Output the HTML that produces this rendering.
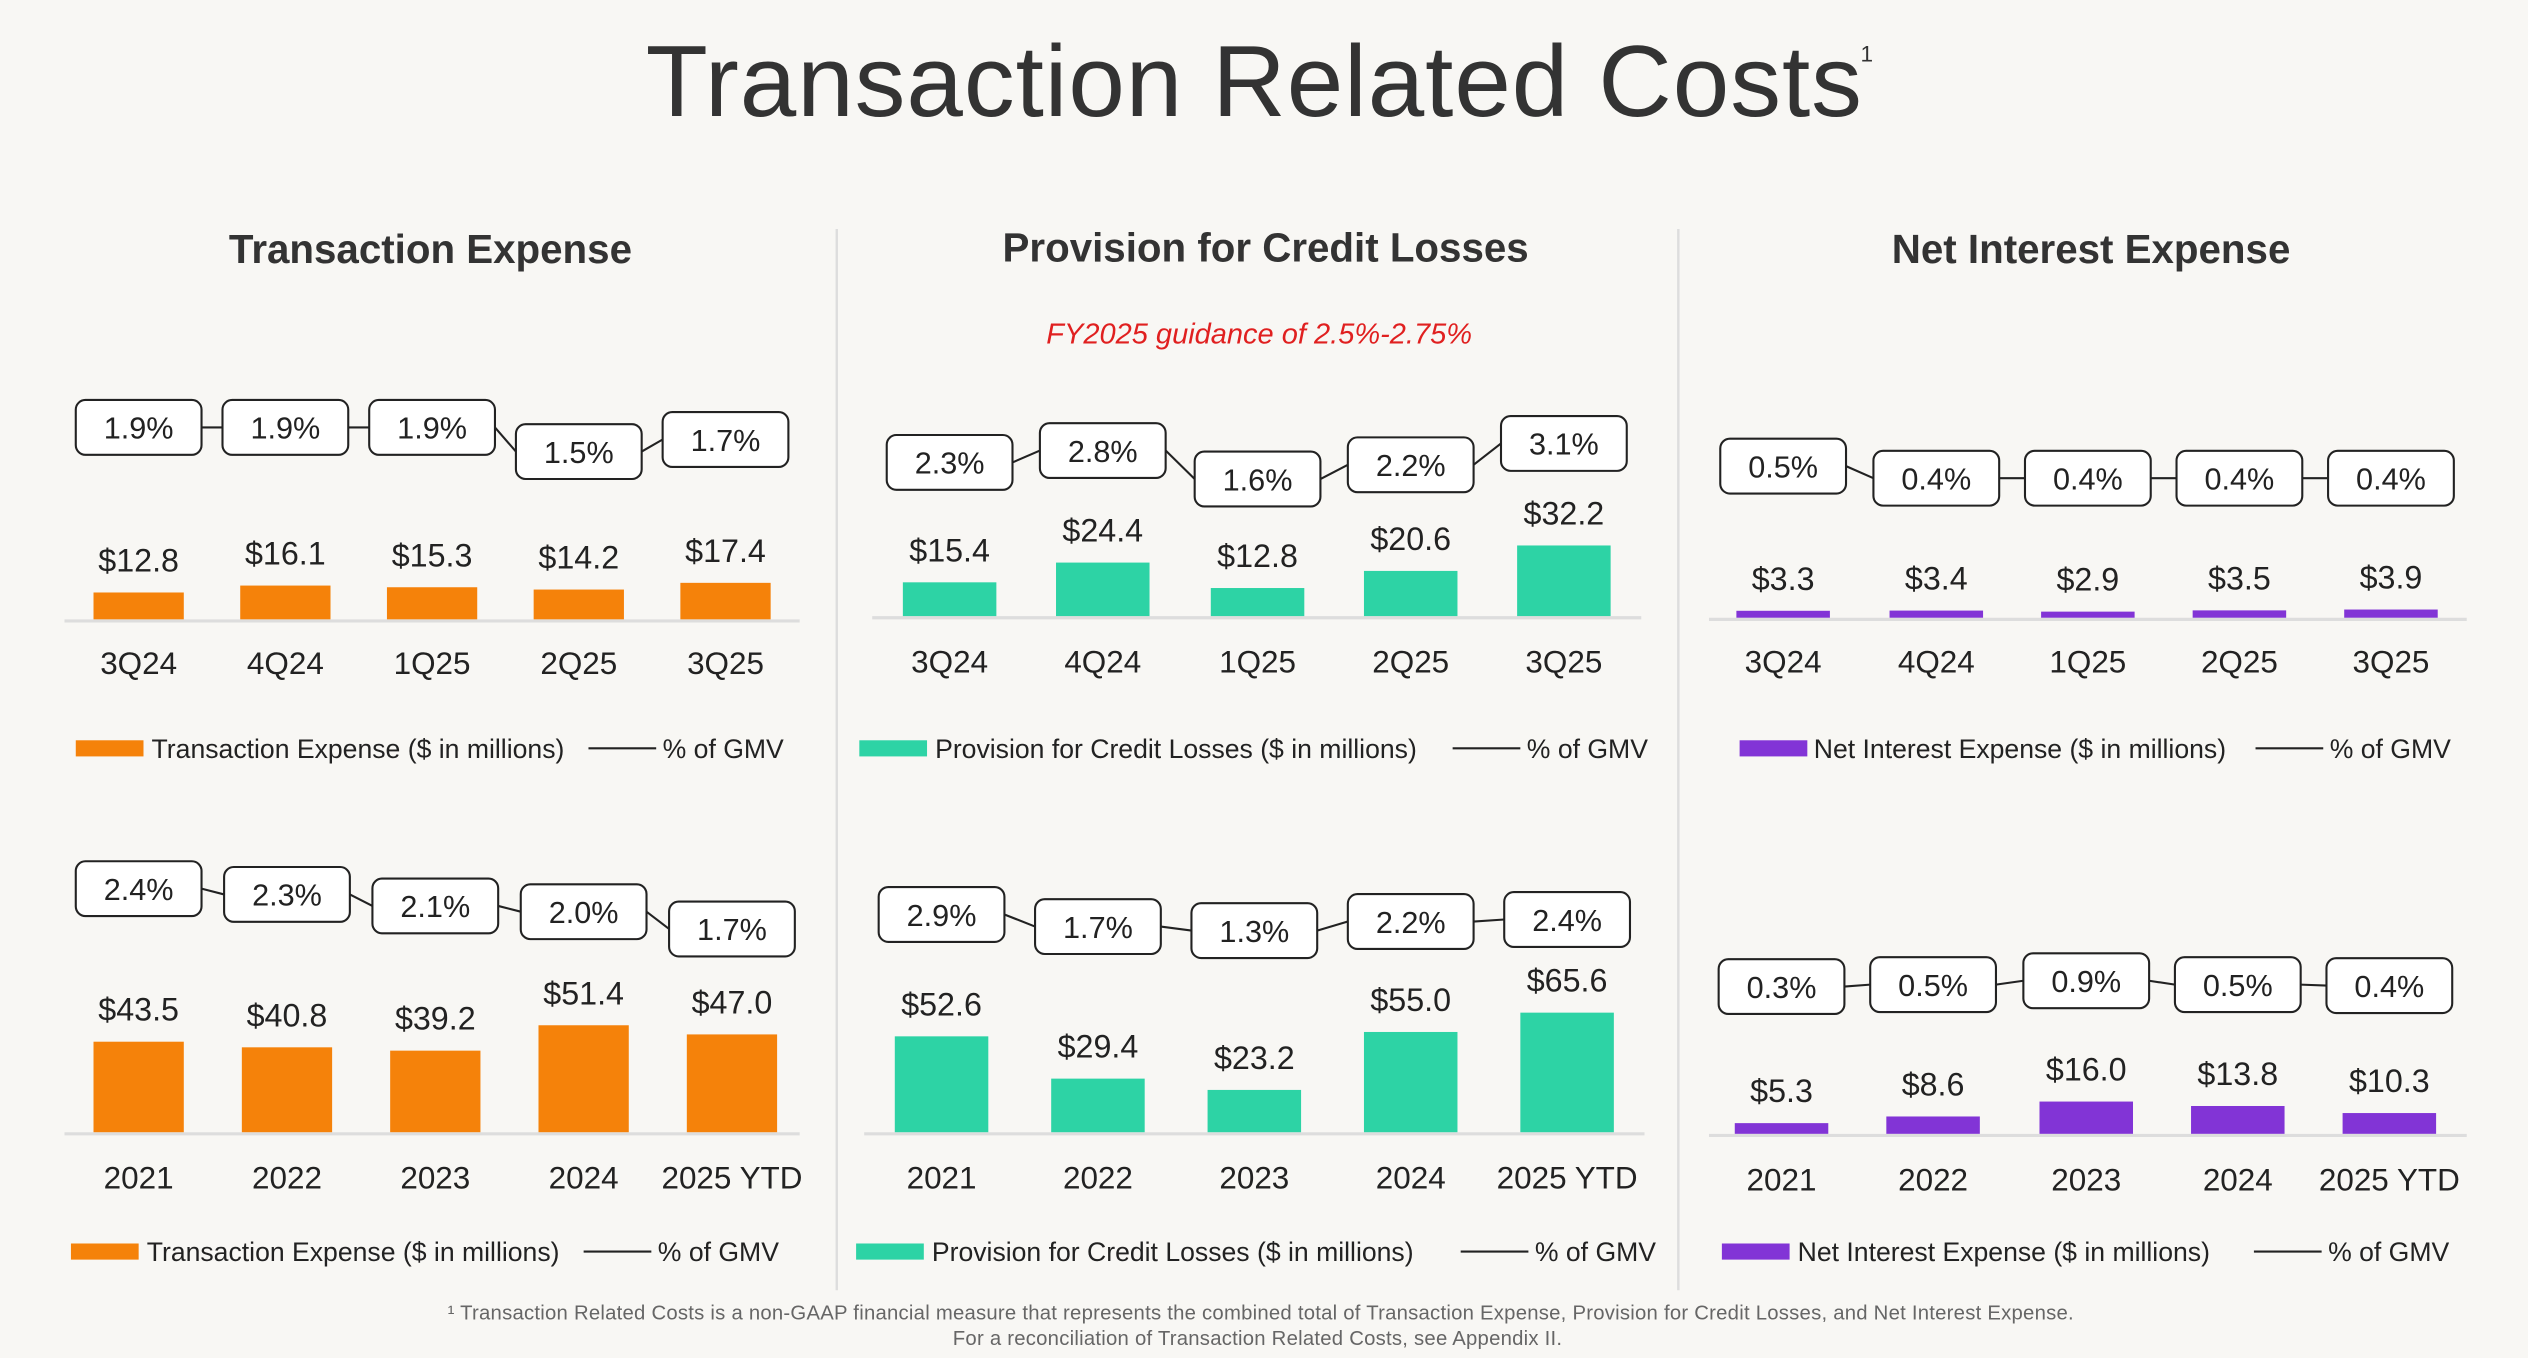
<!DOCTYPE html>
<html><head><meta charset="utf-8"><style>
html,body{margin:0;padding:0;background:#f8f7f4;}
svg{display:block;font-family:"Liberation Sans",sans-serif;}
</style></head><body>
<svg id="s" width="2528" height="1358" viewBox="0 0 1568 842" preserveAspectRatio="none">
<rect x="0" y="0" width="1568" height="842" fill="#f8f7f4"/>
<text x="778" y="72" text-anchor="middle" font-size="63" letter-spacing="0.6" fill="#333">Transaction Related Costs</text>
<text x="1154" y="38" font-size="14" fill="#333">1</text>
<text x="267" y="163" text-anchor="middle" font-size="25" font-weight="bold" fill="#333">Transaction Expense</text>
<text x="785" y="162" text-anchor="middle" font-size="25" font-weight="bold" fill="#333">Provision for Credit Losses</text>
<text x="1297" y="163" text-anchor="middle" font-size="25" font-weight="bold" fill="#333">Net Interest Expense</text>
<text x="781" y="213" text-anchor="middle" font-size="18" font-style="italic" fill="#e02020">FY2025 guidance of 2.5%-2.75%</text>
<line x1="519" y1="142" x2="519" y2="800" stroke="#ddd" stroke-width="1.5"/>
<line x1="1041" y1="142" x2="1041" y2="800" stroke="#ddd" stroke-width="1.5"/>
<text x="782" y="818" text-anchor="middle" font-size="12.6" letter-spacing="0.15" fill="#666">¹ Transaction Related Costs is a non-GAAP financial measure that represents the combined total of Transaction Expense, Provision for Credit Losses, and Net Interest Expense.</text>
<text x="780" y="834" text-anchor="middle" font-size="12.6" letter-spacing="0.15" fill="#666">For a reconciliation of Transaction Related Costs, see Appendix II.</text>
</svg>
<script>
const qCats = ["3Q24","4Q24","1Q25","2Q25","3Q25"];
const yCats = ["2021","2022","2023","2024","2025 YTD"];
const teQVals = [12.8,16.1,15.3,14.2,17.4];
const teQPct = [1.9,1.9,1.9,1.5,1.7];
const teYVals = [43.5,40.8,39.2,51.4,47.0];
const teYPct = [2.4,2.3,2.1,2.0,1.7];
const pcQVals = [15.4,24.4,12.8,20.6,32.2];
const pcQPct = [2.3,2.8,1.6,2.2,3.1];
const pcYVals = [52.6,29.4,23.2,55.0,65.6];
const pcYPct = [2.9,1.7,1.3,2.2,2.4];
const niQVals = [3.3,3.4,2.9,3.5,3.9];
const niQPct = [0.5,0.4,0.4,0.4,0.4];
const niYVals = [5.3,8.6,16.0,13.8,10.3];
const niYPct = [0.3,0.5,0.9,0.5,0.4];

const NS="http://www.w3.org/2000/svg";
const svg=document.getElementById('s');
function mk(tag,attrs,parent){const e=document.createElementNS(NS,tag);for(const k in attrs)e.setAttribute(k,attrs[k]);(parent||svg).appendChild(e);return e;}

function chart(c){
  const g=mk('g',{});
  
  
  const yBar=v=>c.base-v*c.k;
  const yBox=v=>c.pa-c.pb*v;
  const ax=mk('line',{x1:c.ax0,x2:c.ax1,y1:c.base+1,y2:c.base+1,stroke:'#ddd','stroke-width':2},g);
  
  
  for(let i=0;i<c.cats.length-1;i++){
    const l=mk('line',{x1:c.xs[i]+39,y1:yBox(c.pct[i]),x2:c.xs[i+1]-39,y2:yBox(c.pct[i+1]),stroke:'#222','stroke-width':1.3},g);
    
    
  }
  c.cats.forEach((cat,i)=>{
    const x=c.xs[i],v=c.vals[i],t=yBar(v);
    const b=mk('rect',{x:x-c.bw/2,y:t,width:c.bw,height:c.base-t,fill:c.color},g);
    
    
    const vl=mk('text',{x:x,y:t-13,'text-anchor':'middle','font-size':20,fill:'#222'},g);
    vl.textContent='$'+v.toFixed(1);
    
    
    const cl=mk('text',{x:x,y:c.catY,'text-anchor':'middle','font-size':19.5,fill:'#222'},g);
    cl.textContent=cat;
    
    
    const by=yBox(c.pct[i]);
    const bx=mk('rect',{x:x-39,y:by-17,width:78,height:34,rx:6,fill:'#fff',stroke:'#222','stroke-width':1.3},g);
    
    
    const pt=mk('text',{x:x,y:by+7,'text-anchor':'middle','font-size':19,fill:'#222'},g);
    pt.textContent=c.pct[i].toFixed(1)+'%';
    
    
  });
  const L=c.leg;
  const sw=mk('rect',{x:L[0],y:c.legY-5,width:42,height:10,fill:c.color},g);
  
  
  const lt=mk('text',{x:L[1],y:c.legY+6,'font-size':16.5,fill:'#222'},g);
  lt.textContent=c.label+' ($ in millions)';
  
  
  const ll=mk('line',{x1:L[2],x2:L[2]+42,y1:c.legY,y2:c.legY,stroke:'#222','stroke-width':1.3},g);
  
  
  const l2=mk('text',{x:L[2]+46,y:c.legY+6,'font-size':16.5,fill:'#222'},g);
  l2.textContent='% of GMV';
  
  
}
const OR='#f5820a',TE='#2dd3a5',PU='#8234d6';
chart({name:'te-quarterly-chart',cats:qCats,vals:teQVals,pct:teQPct,color:OR,xs:[86,177,268,359,450],bw:56,base:384,k:1.3,pa:336.25,pb:37.5,ax0:40,ax1:496,catY:418,legY:464,leg:[47,94,365],label:'Transaction Expense'});
chart({name:'te-annual-chart',cats:yCats,vals:teYVals,pct:teYPct,color:OR,xs:[86,178,270,362,454],bw:56,base:702,k:1.29,pa:551+35.7*2.4,pb:35.7,ax0:40,ax1:496,catY:737,legY:776,leg:[44,91,362],label:'Transaction Expense'});
chart({name:'pc-quarterly-chart',cats:qCats,vals:pcQVals,pct:pcQPct,color:TE,xs:[589,684,780,875,970],bw:58,base:382,k:1.36,pa:297+14.7*1.6,pb:14.7,ax0:541,ax1:1018,catY:417,legY:464,leg:[533,580,901],label:'Provision for Credit Losses'});
chart({name:'pc-annual-chart',cats:yCats,vals:pcYVals,pct:pcYPct,color:TE,xs:[584,681,778,875,972],bw:58,base:702,k:1.13,pa:577+6.25*1.3,pb:6.25,ax0:536,ax1:1020,catY:737,legY:776,leg:[531,578,906],label:'Provision for Credit Losses'});
chart({name:'ni-quarterly-chart',cats:qCats,vals:niQVals,pct:niQPct,color:PU,xs:[1106,1201,1295,1389,1483],bw:58,base:383,k:1.3,pa:289+75*0.5,pb:75,ax0:1060,ax1:1530,catY:417,legY:464,leg:[1079,1125,1399],label:'Net Interest Expense'});
chart({name:'ni-annual-chart',cats:yCats,vals:niYVals,pct:niYPct,color:PU,xs:[1105,1199,1294,1388,1482],bw:58,base:703,k:1.25,pa:613.5,pb:6,ax0:1060,ax1:1530,catY:738,legY:776,leg:[1068,1115,1398],label:'Net Interest Expense'});
</script>
</body></html>
